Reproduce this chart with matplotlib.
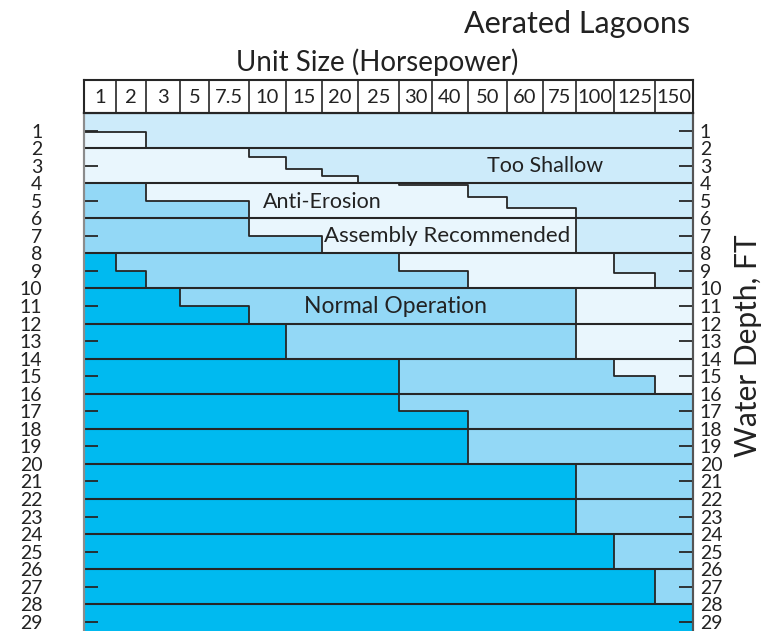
import numpy as np
from matplotlib import pyplot as plt

plt.rcParams['font.family'] = ['Lato', 'DejaVu Sans']

HP_LABELS = ['1', '2', '3', '5', '7.5', '10', '15', '20', '25', '30', '40', '50', '60', '75', '100', '125', '150']
# lower edge (ft of water depth) of each zone, one value per unit size
SHALLOW_END = [1.1, 1.1, 2, 2, 2, 2.5, 3.2, 3.6, 4, 4.1, 4.1, 4.8, 5.4, 5.4, 8, 9.1, 10]
ANTI_EROSION_END = [4, 4, 5, 5, 5, 7, 7, 8, 8, 9, 9, 10, 10, 10, 14, 15, 16]
NORMAL_END = [8, 9, 10, 11, 11, 12, 14, 14, 14, 17, 17, 20, 20, 20, 24, 26, 28]
DEPTHS = list(range(1, 30))

# layout
COL_WIDTHS = [31.7, 30.3, 34, 29, 40, 37, 36, 36, 41, 33, 36, 39, 36, 33, 38, 41, 38]
MAX_DEPTH = 29.52
C_SHALLOW = '#cdebfa'
C_ANTI = '#e9f6fd'
C_NORMAL = '#93d8f6'
C_DEEP = '#00baf0'
LINE = '#262626'
TXT = '#222222'

W, H = 762, 631
edges = np.concatenate([[0], np.cumsum(COL_WIDTHS)])
total_w = edges[-1]


def ext(v):
    return list(v) + [v[-1]]


fig = plt.figure(figsize=(W / 100, H / 100), dpi=100)
ax = fig.add_axes([84 / W, 0, total_w / W, 1 - 113 / H])
hdr = fig.add_axes([84 / W, 1 - 113 / H, total_w / W, 33.5 / H])

zeros = [0] * len(HP_LABELS)
floor = [MAX_DEPTH + 1] * len(HP_LABELS)
layers = [(zeros, SHALLOW_END, C_SHALLOW),
          (SHALLOW_END, ANTI_EROSION_END, C_ANTI),
          (ANTI_EROSION_END, NORMAL_END, C_NORMAL),
          (NORMAL_END, floor, C_DEEP)]
for lo, hi, c in layers:
    ax.fill_between(edges, ext(lo), ext(hi), step='post', color=c, lw=0)

for b in [SHALLOW_END, ANTI_EROSION_END, NORMAL_END]:
    ax.step(edges, ext(b), where='post', color=LINE, lw=1.3)

ax.hlines(range(2, 30, 2), 0, total_w, color=LINE, lw=1.5)

ax.set_xlim(0, total_w)
ax.set_ylim(MAX_DEPTH, 0)
ax.set_xticks([])

odd = [d for d in DEPTHS if d % 2]
even = [d for d in DEPTHS if d % 2 == 0]
ax2 = ax.twinx()
ax2.set_ylim(MAX_DEPTH, 0)
for a, pad in [(ax, 30), (ax2, 5)]:
    a.set_yticks(odd, [str(d) for d in odd])
    a.set_yticks(even, [str(d) for d in even], minor=True)
    a.tick_params(axis='y', which='major', direction='in', length=10, width=1.3,
                  color=LINE, labelsize=14, pad=pad, labelcolor=TXT)
    a.tick_params(axis='y', which='minor', length=0, labelsize=14, pad=pad,
                  labelcolor=TXT)
for a in (ax, ax2):
    a.spines['bottom'].set_visible(False)
    a.spines['top'].set_color(LINE)
    a.spines['top'].set_linewidth(1.5)
    a.spines['left'].set_color('#8c8c8c')
    a.spines['left'].set_linewidth(1.5)
    a.spines['right'].set_color('#555555')
    a.spines['right'].set_linewidth(1.5)

ax.text(461, 3.0, 'Too Shallow', ha='center', va='center', fontsize=15.5, color=TXT)
ax.text(238, 5.1, 'Anti-Erosion', ha='center', va='center', fontsize=15.5, color=TXT)
ax.text(363, 7.0, 'Assembly Recommended', ha='center', va='center', fontsize=16, color=TXT)
ax.text(312, 11.0, 'Normal Operation', ha='center', va='center', fontsize=16.5, color=TXT)

# header row with unit sizes
hdr.set_xlim(0, total_w)
hdr.set_ylim(0, 1)
hdr.set_xticks([])
hdr.set_yticks([])
for s in hdr.spines.values():
    s.set_color(LINE)
    s.set_linewidth(1.5)
for x in edges[1:-1]:
    hdr.axvline(x, color=LINE, lw=1.2)
centers = (edges[:-1] + edges[1:]) / 2
for x, lab in zip(centers, HP_LABELS):
    hdr.text(x, 0.45, lab, ha='center', va='center', fontsize=14.5, color=TXT)

fig.text(690 / W, 1 - 33 / H, 'Aerated Lagoons', ha='right', va='baseline', fontsize=22, color=TXT)
fig.text(377 / W, 1 - 71 / H, 'Unit Size (Horsepower)', ha='center', va='baseline', fontsize=20, color=TXT)
fig.text(748 / W, 1 - 346 / H, 'Water Depth, FT', rotation=90, ha='center', va='center', fontsize=21.5, color=TXT)

fig.savefig('out.png', dpi=100)
